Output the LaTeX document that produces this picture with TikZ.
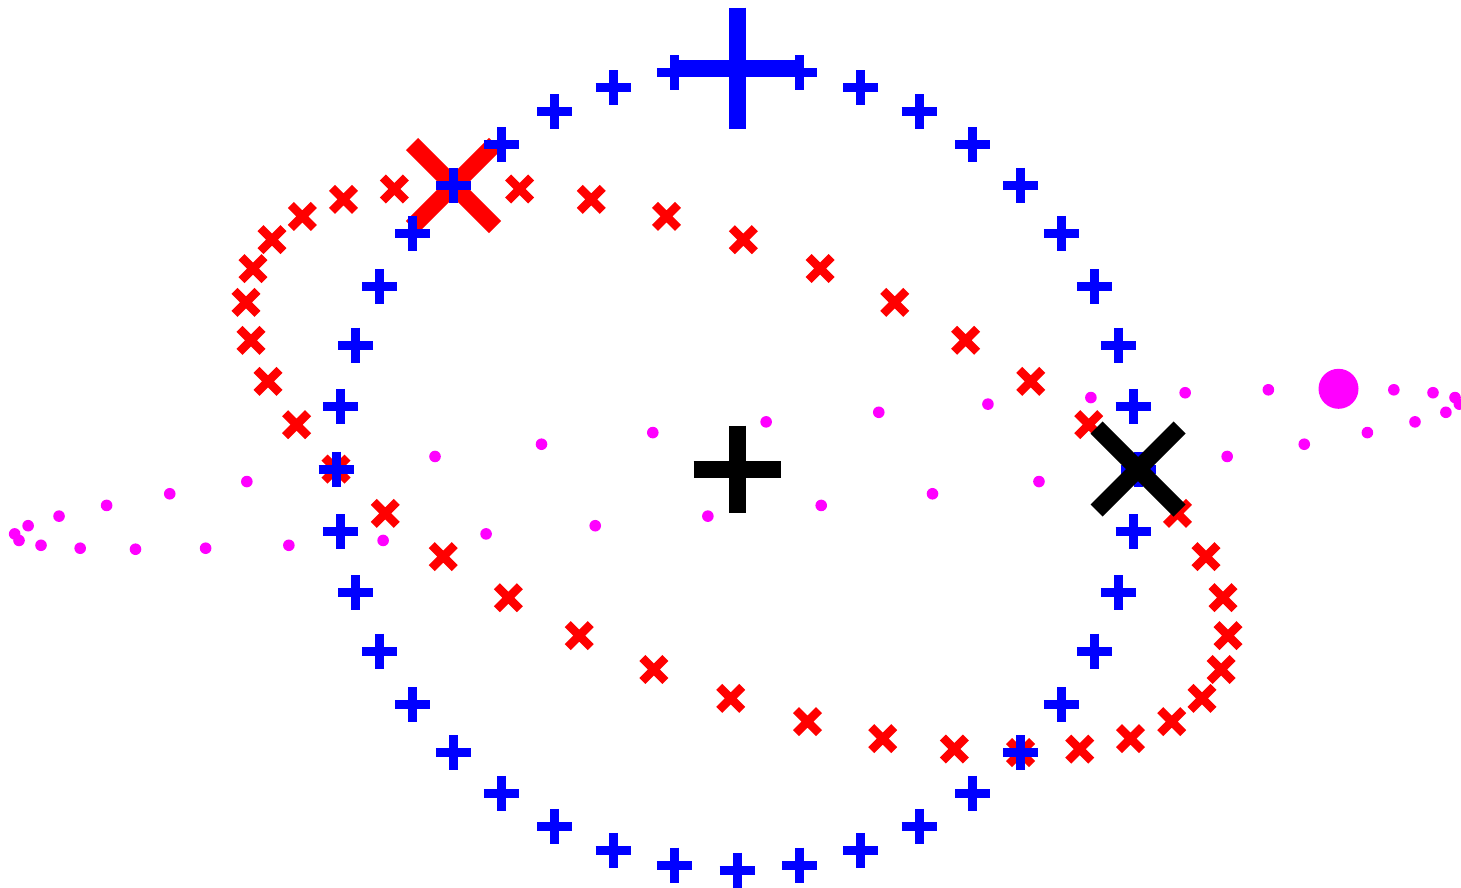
\documentclass[tikz,border=0pt]{standalone}
\definecolor{pblue}{RGB}{0,0,255}
\definecolor{pred}{RGB}{255,0,0}
\definecolor{pmag}{RGB}{255,0,255}
\definecolor{pblack}{RGB}{0,0,0}
\begin{document}
\begin{tikzpicture}[x=1pt,y=-1pt,
  smallplus/.style={pblue, line width=9pt},
  smallx/.style={pred, line width=8.5pt},
  dotmark/.style={pmag},
  bigplus/.style={pblue, line width=17pt},
  bigx/.style={pred, line width=17pt},
  blackmark/.style={pblack, line width=17pt}]
\useasboundingbox (0,0) rectangle (1461,887);
\coordinate (c) at (737,469);
% magenta dots
\foreach \k in {0,...,39}{
  \pgfmathsetmacro{\mx}{737-401*sin(9*\k)+601.5*cos(9*\k)}
  \pgfmathsetmacro{\my}{469-80.2*cos(9*\k)}
  \fill[dotmark] (\mx,\my) circle[radius=5.8];
}
\fill[dotmark] (1338.5,388.8) circle[radius=20];
% red x markers
\foreach \k in {0,...,39}{
  \pgfmathsetmacro{\rx}{737-401*sin(9*\k)-283.5*cos(9*\k)}
  \pgfmathsetmacro{\ry}{469-283.5*cos(9*\k)}
  \draw[smallx, shift={(\rx,\ry)}] (-11.5,-11.5) -- (11.5,11.5) (-11.5,11.5) -- (11.5,-11.5);
}
\draw[bigx, shift={(453.5,185.5)}] (-41.5,-41.5) -- (41.5,41.5) (-41.5,41.5) -- (41.5,-41.5);
% blue plus markers
\foreach \k in {0,...,39}{
  \pgfmathsetmacro{\bx}{737-401*sin(9*\k)}
  \pgfmathsetmacro{\by}{469-401*cos(9*\k)}
  \draw[smallplus, shift={(\bx,\by)}] (-17.5,0) -- (17.5,0) (0,-17.5) -- (0,17.5);
}
\draw[bigplus, shift={(737,68)}] (-61.5,0) -- (61.5,0) (0,-60.5) -- (0,60.5);
% black markers
\draw[blackmark, shift={(c)}] (-43.5,0) -- (43.5,0) (0,-43.5) -- (0,43.5);
\draw[blackmark, shift={(1138,469)}] (-41.5,-41.5) -- (41.5,41.5) (-41.5,41.5) -- (41.5,-41.5);
\end{tikzpicture}
\end{document}
